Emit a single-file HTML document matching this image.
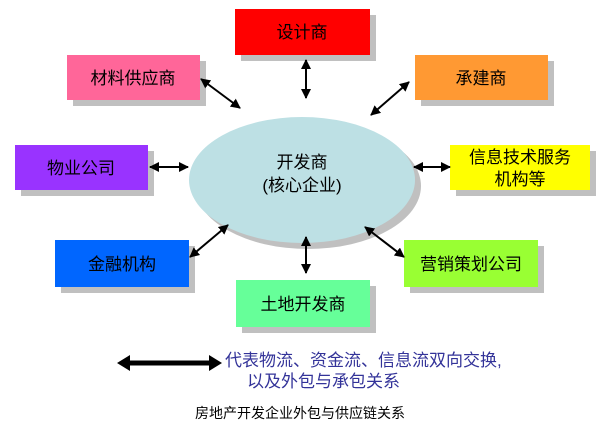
<!DOCTYPE html>
<html><head><meta charset="utf-8"><style>
html,body{margin:0;padding:0;background:#fff;}
svg{display:block;}
text{font-family:"Liberation Sans","Noto Sans CJK SC","WenQuanYi Zen Hei",sans-serif;}
</style></head><body>
<svg width="607" height="437" viewBox="0 0 607 437" xmlns="http://www.w3.org/2000/svg">
<defs>
<marker id="a" viewBox="0 0 10 10" refX="9" refY="5" markerWidth="5" markerHeight="5" orient="auto-start-reverse"><path d="M0,0 L10,5 L0,10 z" fill="#000"/></marker>
</defs>
<g fill="#c0c0c0">
<rect x="241" y="15" width="135" height="46"/>
<rect x="73" y="61" width="133" height="45"/>
<rect x="421" y="61" width="133" height="45"/>
<rect x="21" y="151" width="133" height="45"/>
<rect x="456" y="151" width="140" height="45"/>
<ellipse cx="308" cy="186" rx="113" ry="63"/>
<rect x="61" y="246" width="134" height="47"/>
<rect x="410" y="246" width="134" height="47"/>
<rect x="242" y="286" width="134" height="47"/>
</g>
<rect x="235" y="9" width="135" height="46" fill="#ff0000"/>
<rect x="67" y="55" width="133" height="45" fill="#ff6699"/>
<rect x="415" y="55" width="133" height="45" fill="#ff9933"/>
<rect x="15" y="145" width="133" height="45" fill="#9933ff"/>
<rect x="450" y="145" width="140" height="45" fill="#ffff00"/>
<ellipse cx="302" cy="180" rx="113" ry="63" fill="#bde0e4"/>
<rect x="55" y="240" width="134" height="47" fill="#0066ff"/>
<rect x="404" y="240" width="134" height="47" fill="#99ff33"/>
<rect x="236" y="280" width="134" height="47" fill="#66ff99"/>
<g font-size="17" fill="#000" text-anchor="middle">
<text x="302" y="38">设计商</text>
<text x="133" y="84">材料供应商</text>
<text x="481" y="84">承建商</text>
<text x="81" y="174">物业公司</text>
<text x="520" y="163">信息技术服务</text>
<text x="520" y="185">机构等</text>
<text x="302" y="168">开发商</text>
<text x="302" y="191">(核心企业)</text>
<text x="122" y="270">金融机构</text>
<text x="471" y="270">营销策划公司</text>
<text x="303" y="310">土地开发商</text>
</g>
<g stroke="#000" stroke-width="2" marker-start="url(#a)" marker-end="url(#a)">
<line x1="306" y1="60" x2="306" y2="98"/>
<line x1="201" y1="79" x2="240" y2="108"/>
<line x1="409" y1="82" x2="371" y2="115"/>
<line x1="150" y1="167" x2="188" y2="167"/>
<line x1="414" y1="167" x2="450" y2="167"/>
<line x1="228" y1="225" x2="190" y2="257"/>
<line x1="306" y1="237" x2="306" y2="273"/>
<line x1="365" y1="227" x2="404" y2="257"/>
</g>
<line x1="125" y1="363" x2="212" y2="363" stroke="#000" stroke-width="5"/>
<path d="M117,363 L130,355 L130,371 z M222,363 L209,355 L209,371 z" fill="#000"/>
<g font-size="17" fill="#333399">
<text x="225" y="366">代表物流、资金流、信息流双向交换,</text>
<text x="247" y="387">以及外包与承包关系</text>
</g>
<text x="300" y="418" font-size="14" fill="#000" text-anchor="middle">房地产开发企业外包与供应链关系</text>
</svg>
</body></html>
